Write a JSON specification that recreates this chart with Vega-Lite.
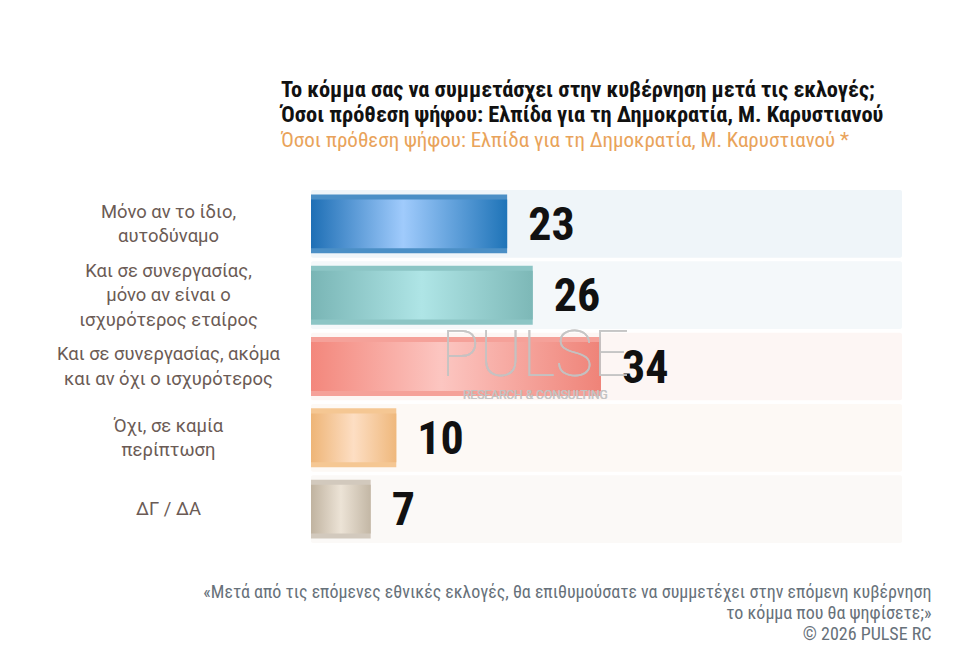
{
  "$schema": "https://vega.github.io/schema/vega-lite/v6.json",
  "autosize": {"type": "none"},
  "width": 591,
  "height": 353,
  "padding": {"left": 311, "top": 190, "right": 67, "bottom": 104},
  "background": "#ffffff",
  "config": {
    "view": {"stroke": null}
  },
  "title": {
    "text": [
      "Το κόμμα σας να συμμετάσχει στην κυβέρνηση μετά τις εκλογές;",
      "Όσοι πρόθεση ψήφου: Ελπίδα για τη Δημοκρατία, Μ. Καρυστιανού"
    ],
    "subtitle": "Όσοι πρόθεση ψήφου: Ελπίδα για τη Δημοκρατία, Μ. Καρυστιανού *",
    "anchor": "start",
    "frame": "group",
    "dx": -30,
    "font": "Roboto Condensed",
    "fontSize": 22.4,
    "fontWeight": "bold",
    "color": "#111111",
    "lineHeight": 25,
    "subtitleFont": "Roboto Condensed",
    "subtitleFontSize": 21,
    "subtitleColor": "#e9a35a",
    "subtitlePadding": 4,
    "offset": 39
  },
  "data": {
    "values": [
      {"answer": "Μόνο αν το ίδιο,\nαυτοδύναμο", "pct": 23},
      {"answer": "Και σε συνεργασίας,\nμόνο αν είναι ο\nισχυρότερος εταίρος", "pct": 26},
      {"answer": "Και σε συνεργασίας, ακόμα\nκαι αν όχι ο ισχυρότερος", "pct": 34},
      {"answer": "Όχι, σε καμία\nπερίπτωση", "pct": 10},
      {"answer": "ΔΓ / ΔΑ", "pct": 7}
    ]
  },
  "encoding": {
    "y": {
      "field": "answer",
      "type": "nominal",
      "sort": null,
      "scale": {"paddingInner": 0.05, "paddingOuter": 0},
      "axis": {
        "title": null,
        "domain": false,
        "ticks": false,
        "tickSize": 0,
        "labelPadding": 143,
        "labelAlign": "center",
        "labelBaseline": "middle",
        "labelFont": "Roboto",
        "labelFontSize": 18.4,
        "labelColor": "#6b5b55",
        "labelLineHeight": 24.5,
        "labelLimit": 300,
        "labelOffset": {
          "condition": [
            {"test": "length(split(datum.value, '\\n')) == 3", "value": -24.5},
            {"test": "length(split(datum.value, '\\n')) == 2", "value": -12.25}
          ],
          "value": 0
        },
        "labelExpr": "split(datum.label, '\\n')"
      }
    }
  },
  "layer": [
    {
      "mark": {"type": "bar", "cornerRadius": 2},
      "encoding": {
        "x": {
          "datum": 0,
          "type": "quantitative",
          "scale": {"domain": [0, 69.3], "nice": false, "zero": true},
          "axis": {
            "orient": "bottom",
            "labels": false,
            "ticks": false,
            "domain": false,
            "grid": false,
            "title": [
              "«Μετά από τις επόμενες εθνικές εκλογές, θα επιθυμούσατε να συμμετέχει στην επόμενη κυβέρνηση",
              "το κόμμα που θα ψηφίσετε;»",
              "©  2026  PULSE RC"
            ],
            "titleFont": "Roboto Condensed",
            "titleFontSize": 18,
            "titleFontWeight": "normal",
            "titleColor": "#67717a",
            "titleAlign": "right",
            "titleAnchor": "end",
            "titleBaseline": "alphabetic",
            "titleLineHeight": 21,
            "titleX": 620,
            "titleY": 54
          }
        },
        "x2": {"datum": 69.3},
        "color": {
          "field": "answer",
          "type": "nominal",
          "sort": null,
          "legend": null,
          "scale": {"range": ["#eff5f9", "#f4f8fa", "#fdf6f4", "#fdf9f5", "#fbf9f7"]}
        }
      }
    },
    {
      "mark": {"type": "bar", "height": {"band": 0.87}},
      "encoding": {
        "x": {"field": "pct", "type": "quantitative"},
        "fill": {
          "field": "answer",
          "type": "nominal",
          "sort": null,
          "legend": null,
          "scale": {"range": ["#4b8fc6", "#8cc5c5", "#f5a199", "#f5c793", "#d2c9bd"]}
        }
      }
    },
    {
      "transform": [{"filter": "datum.pct == 23"}],
      "mark": {
        "type": "bar",
        "height": {"band": 0.72},
        "color": {
          "gradient": "linear", "x1": 0, "x2": 1, "y1": 0, "y2": 0,
          "stops": [
            {"offset": 0, "color": "#1e6fb5"},
            {"offset": 0.47, "color": "#a0cbfc"},
            {"offset": 1, "color": "#1f74b8"}
          ]
        }
      },
      "encoding": {"x": {"field": "pct", "type": "quantitative"}}
    },
    {
      "transform": [{"filter": "datum.pct == 26"}],
      "mark": {
        "type": "bar",
        "height": {"band": 0.72},
        "color": {
          "gradient": "linear", "x1": 0, "x2": 1, "y1": 0, "y2": 0,
          "stops": [
            {"offset": 0, "color": "#79b5b5"},
            {"offset": 0.5, "color": "#afe5e6"},
            {"offset": 1, "color": "#7db8b7"}
          ]
        }
      },
      "encoding": {"x": {"field": "pct", "type": "quantitative"}}
    },
    {
      "transform": [{"filter": "datum.pct == 34"}],
      "mark": {
        "type": "bar",
        "height": {"band": 0.72},
        "color": {
          "gradient": "linear", "x1": 0, "x2": 1, "y1": 0, "y2": 0,
          "stops": [
            {"offset": 0, "color": "#f3877c"},
            {"offset": 0.45, "color": "#fcc6c1"},
            {"offset": 1, "color": "#ef8378"}
          ]
        }
      },
      "encoding": {"x": {"field": "pct", "type": "quantitative"}}
    },
    {
      "transform": [{"filter": "datum.pct == 10"}],
      "mark": {
        "type": "bar",
        "height": {"band": 0.72},
        "color": {
          "gradient": "linear", "x1": 0, "x2": 1, "y1": 0, "y2": 0,
          "stops": [
            {"offset": 0, "color": "#eeb577"},
            {"offset": 0.5, "color": "#fddec3"},
            {"offset": 1, "color": "#efb87c"}
          ]
        }
      },
      "encoding": {"x": {"field": "pct", "type": "quantitative"}}
    },
    {
      "transform": [{"filter": "datum.pct == 7"}],
      "mark": {
        "type": "bar",
        "height": {"band": 0.72},
        "color": {
          "gradient": "linear", "x1": 0, "x2": 1, "y1": 0, "y2": 0,
          "stops": [
            {"offset": 0, "color": "#c0b3a0"},
            {"offset": 0.5, "color": "#ece3d6"},
            {"offset": 1, "color": "#c3b7a5"}
          ]
        }
      },
      "encoding": {"x": {"field": "pct", "type": "quantitative"}}
    },
    {
      "mark": {
        "type": "text",
        "align": "left",
        "baseline": "middle",
        "dx": 21,
        "dy": 2,
        "font": "Roboto Condensed",
        "fontWeight": "bold",
        "fontSize": 46,
        "color": "#111111"
      },
      "encoding": {
        "x": {"field": "pct", "type": "quantitative"},
        "text": {"field": "pct", "type": "quantitative"}
      }
    },
    {
      "mark": {
        "type": "text",
        "align": "center",
        "baseline": "alphabetic",
        "font": "Roboto",
        "fontWeight": 100,
        "fontSize": 64,
        "color": "#c4c4c4",
        "opacity": 0.45,
        "dy": 9
      },
      "encoding": {
        "x": {"datum": 26.3, "type": "quantitative"},
        "y": {"datum": "Και σε συνεργασίας, ακόμα\nκαι αν όχι ο ισχυρότερος", "type": "nominal"},
        "text": {"value": "PULSE"}
      }
    },
    {
      "mark": {
        "type": "text",
        "align": "center",
        "baseline": "middle",
        "font": "Roboto",
        "fontSize": 12,
        "color": "#c4c4c4",
        "opacity": 0.5,
        "dy": 28
      },
      "encoding": {
        "x": {"datum": 26.3, "type": "quantitative"},
        "y": {"datum": "Και σε συνεργασίας, ακόμα\nκαι αν όχι ο ισχυρότερος", "type": "nominal"},
        "text": {"value": "RESEARCH & CONSULTING"}
      }
    }
  ]
}
